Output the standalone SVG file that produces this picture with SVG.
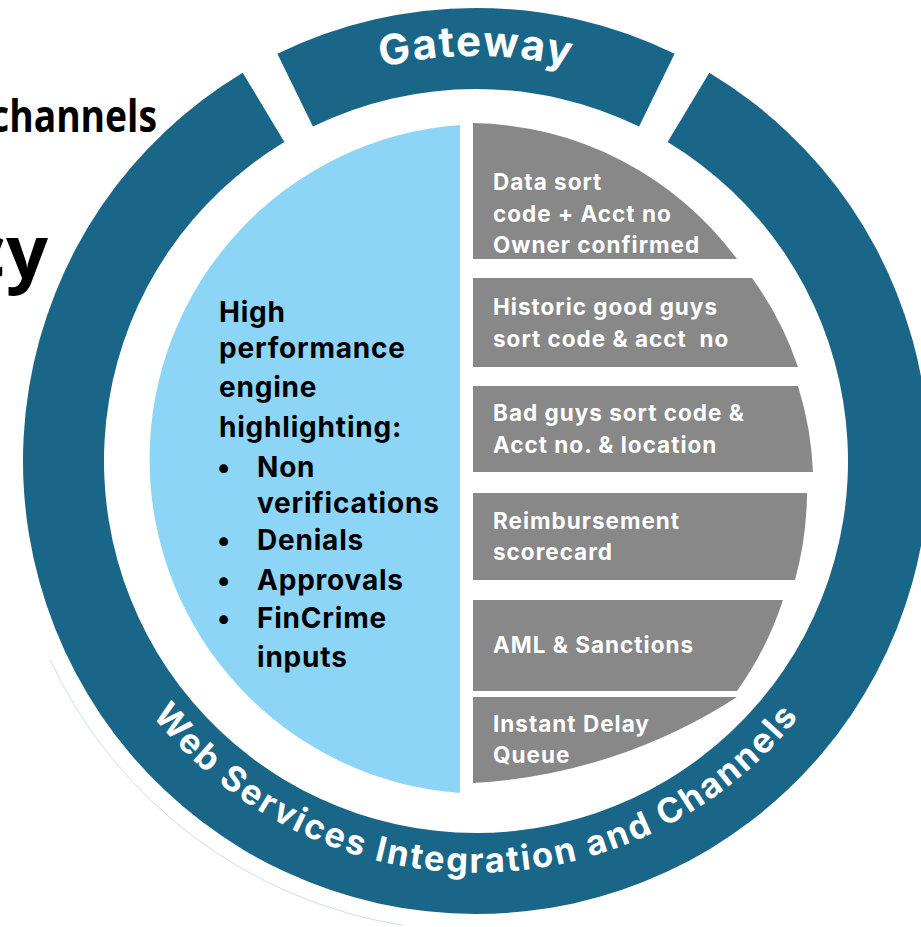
<svg xmlns="http://www.w3.org/2000/svg" width="921" height="927" viewBox="0 0 921 927">
<defs>
<style>
.ring{fill:#1A6688}
.core{fill:#8DD5F7}
.seg{fill:#888888}
.segt{font-family:Inter,"Liberation Sans",sans-serif;font-weight:700;font-size:22.5px;letter-spacing:1px;fill:#FFFFFF}
.coret{font-family:Inter,"Liberation Sans",sans-serif;font-weight:700;font-size:28px;letter-spacing:0.8px;fill:#000000}
.bandt{font-family:Inter,"Liberation Sans",sans-serif;font-weight:700;fill:#FFFFFF}
.side{font-family:"Open Sans","Liberation Sans",sans-serif;font-weight:700;fill:#000000}
</style>
<path id="gwPath" d="M 125.3 258.5 A 405 405 0 0 1 826.7 258.5"/>
<path id="wsPath" d="M 70.3 532.5 A 412 412 0 0 0 881.7 532.5"/>
</defs>
<rect width="921" height="927" fill="#FFFFFF"/>

<g id="side-text">
<text class="side" x="-10" y="132" font-size="44" textLength="167" lengthAdjust="spacingAndGlyphs">channels</text>
<text class="side" x="48" y="278" font-size="74" text-anchor="end">cy</text>
</g>

<path d="M 50 659.6 A 470 470 0 0 0 402.5 925.2" fill="none" stroke="#C3D4DF" stroke-width="0.8"/>

<g id="ring-web-services">
<path class="ring" d="M 709.3 72.7 A 453 453 0 1 1 242.7 72.7 L 284.4 142.1 A 372 372 0 1 0 667.6 142.1 Z"/>
<text class="bandt" font-size="34.5" letter-spacing="2.2"><textPath href="#wsPath" startOffset="50%" text-anchor="middle">Web Services Integration and Channels</textPath></text>
</g>

<g id="gateway">
<path class="ring" d="M 277.4 53.8 A 453 453 0 0 1 674.6 53.8 L 639.1 126.6 A 372 372 0 0 0 312.9 126.6 Z"/>
<text class="bandt" font-size="42" letter-spacing="1.5"><textPath href="#gwPath" startOffset="50%" text-anchor="middle">Gateway</textPath></text>
</g>

<g id="engine">
<path class="core" d="M 460 124.9 A 335 335 0 0 0 460 793.1 Z"/>
<text class="coret" x="219" y="322">High</text>
<text class="coret" x="219" y="358">performance</text>
<text class="coret" x="219" y="397">engine</text>
<text class="coret" x="219" y="437">highlighting:</text>
<text class="coret" x="217" y="477">•</text>
<text class="coret" x="257" y="477">Non</text>
<text class="coret" x="257" y="513">verifications</text>
<text class="coret" x="217" y="550">•</text>
<text class="coret" x="257" y="550">Denials</text>
<text class="coret" x="217" y="590">•</text>
<text class="coret" x="257" y="590">Approvals</text>
<text class="coret" x="217" y="628">•</text>
<text class="coret" x="257" y="628">FinCrime</text>
<text class="coret" x="257" y="667">inputs</text>
</g>

<g id="data-sort">
<path class="seg" d="M 473 123 A 335 335 0 0 1 737 259 L 473 259 Z"/>
<text class="segt" x="493" y="190">Data sort</text>
<text class="segt" x="493" y="222">code + Acct no</text>
<text class="segt" x="493" y="253">Owner confirmed</text>
</g>

<g id="historic-good-guys">
<path class="seg" d="M 473 278 L 752 278 A 335 335 0 0 1 798 367 L 473 367 Z"/>
<text class="segt" x="493" y="315">Historic good guys</text>
<text class="segt" x="493" y="347" xml:space="preserve">sort code &amp; acct  no</text>
</g>

<g id="bad-guys">
<path class="seg" d="M 473 386 L 798 386 A 335 335 0 0 1 813 472 L 473 472 Z"/>
<text class="segt" x="493" y="421">Bad guys sort code &amp;</text>
<text class="segt" x="493" y="453">Acct no. &amp; location</text>
</g>

<g id="reimbursement">
<path class="seg" d="M 473 493 L 807 493 A 335 335 0 0 1 795 580 L 473 580 Z"/>
<text class="segt" x="493" y="529">Reimbursement</text>
<text class="segt" x="493" y="560">scorecard</text>
</g>

<g id="aml">
<path class="seg" d="M 473 600 L 783 600 A 335 335 0 0 1 737 691 L 473 691 Z"/>
<text class="segt" x="493" y="653">AML &amp; Sanctions</text>
</g>

<g id="instant-delay">
<path class="seg" d="M 473 697 L 737 697 A 540 540 0 0 1 473 783 Z"/>
<text class="segt" x="493" y="732">Instant Delay</text>
<text class="segt" x="493" y="763">Queue</text>
</g>
</svg>
